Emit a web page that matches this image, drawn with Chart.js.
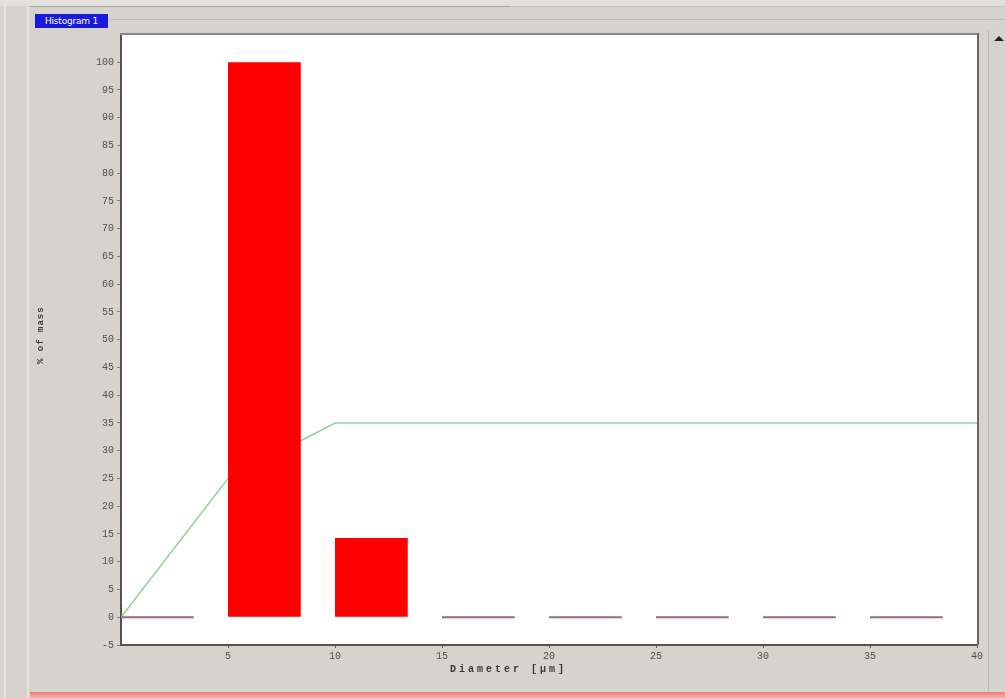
<!DOCTYPE html>
<html>
<head>
<meta charset="utf-8">
<script src="https://cdn.jsdelivr.net/npm/chart.js@4/dist/chart.umd.min.js"></script>
<style>
  html, body { margin: 0; padding: 0; background: #d6d3cc; overflow: hidden; }
  #wrap { position: relative; width: 1005px; height: 698px; }
  #plot { position: absolute; left: 0; top: 0; }
  .edge { position: absolute; }
  #tab {
    position: absolute; left: 35px; top: 14px; width: 73px; height: 14px;
    background: #1a1adc; color: #fff; font: 9px "DejaVu Sans", sans-serif;
    line-height: 14px; text-align: center; letter-spacing: -0.2px;
  }
</style>
</head>
<body>
<div id="wrap">
  <!-- window chrome -->
  <div class="edge" style="left:0;top:0;width:1005px;height:6px;background:#e2e0da"></div>
  <div class="edge" style="left:4px;top:0;width:2px;height:698px;background:#e6e4de"></div>
  <div class="edge" style="left:27px;top:6px;width:2px;height:692px;background:#e4e2dc"></div>
  <div class="edge" style="left:30px;top:6px;width:480px;height:1px;background:#a8a6a0"></div>
  <div class="edge" style="left:510px;top:6px;width:495px;height:1px;background:#c4c2bc"></div>
  <div class="edge" style="left:110px;top:19px;width:895px;height:1px;background:#bdbab4"></div>
  <div class="edge" style="left:988px;top:30px;width:1px;height:668px;background:#bcbab4"></div>
  <div class="edge" style="left:994px;top:36px;width:0;height:0;border-left:5px solid transparent;border-right:5px solid transparent;border-bottom:5px solid #222"></div>
  <div class="edge" style="left:30px;top:692px;width:975px;height:6px;background:linear-gradient(#f07a78,#f6b0ac)"></div>
  <div id="tab">Histogram 1</div>
  <canvas id="plot" width="1005" height="698"></canvas>
</div>
<script>
// Particle size distribution: mass fraction per diameter class
const binStarts = [0, 5, 10, 15, 20, 25, 30, 35];           // µm, lower edge of each class
const massPercent = [0, 100, 14.3, 0, 0, 0, 0, 0];          // % of mass per class
const curveX = [0, 5, 10, 15, 20, 25, 30, 35, 40];          // µm
const curveY = [0, 25, 35, 35, 35, 35, 35, 35, 35];         // green trace
const xTicks = [5, 10, 15, 20, 25, 30, 35, 40];
const yTicks = [-5, 0, 5, 10, 15, 20, 25, 30, 35, 40, 45, 50, 55, 60, 65, 70, 75, 80, 85, 90, 95, 100];

const binWidth = 5;
const barFraction = 0.68;   // bars are left-aligned inside their class

const barData = binStarts.map((s, i) => ({ x: s + binWidth * barFraction / 2, y: massPercent[i] }));
const curveData = curveX.map((x, i) => ({ x, y: curveY[i] }));

const tickFont = { family: '"Liberation Mono", "DejaVu Sans Mono", monospace', size: 10 };

const framePlugin = {
  id: 'frame',
  beforeDraw(chart) {
    const { ctx, chartArea: a } = chart;
    ctx.save();
    ctx.fillStyle = '#ffffff';
    ctx.fillRect(a.left, a.top, a.right - a.left, a.bottom - a.top);
    ctx.restore();
  },
  afterDraw(chart) {
    const { ctx, chartArea: a } = chart;
    ctx.save();
    // sunken plot frame
    ctx.fillStyle = '#8a8884';
    ctx.fillRect(a.left - 1, a.top - 2, a.right - a.left + 2, 2);
    ctx.fillStyle = '#6a6864';
    ctx.fillRect(a.right, a.top - 2, 2, a.bottom - a.top + 2);
    // axis titles
    ctx.fillStyle = '#3a3a3a';
    ctx.font = 'bold 10px "Liberation Mono", monospace';
    ctx.letterSpacing = '3px';
    ctx.textBaseline = 'middle';
    ctx.textAlign = 'left';
    ctx.fillText('Diameter [µm]', 450, 669);
    ctx.translate(41, 364);
    ctx.rotate(-Math.PI / 2);
    ctx.font = 'bold 9px "Liberation Mono", monospace';
    ctx.letterSpacing = '1px';
    ctx.fillText('% of mass', 0, 0);
    ctx.restore();
  }
};

new Chart(document.getElementById('plot'), {
  type: 'bar',
  data: {
    datasets: [
      {
        type: 'bar',
        data: barData,
        order: 1,
        backgroundColor: c => (c.raw && c.raw.y === 0 ? '#9c6a74' : '#ff0000'),
        borderWidth: 0,
        minBarLength: 2,
        barPercentage: barFraction,
        categoryPercentage: 1
      },
      {
        type: 'line',
        data: curveData,
        order: 2,
        borderColor: '#8fd493',
        borderWidth: 1.5,
        pointRadius: 0,
        tension: 0,
        fill: false
      }
    ]
  },
  plugins: [framePlugin],
  options: {
    responsive: false,
    animation: false,
    layout: { padding: { top: 35, right: 28, bottom: 0, left: 0 } },
    plugins: { legend: { display: false }, tooltip: { enabled: false } },
    scales: {
      x: {
        type: 'linear',
        min: 0,
        max: 40,
        offset: false,
        afterBuildTicks: s => { s.ticks = xTicks.map(v => ({ value: v })); },
        afterFit: s => { s.height = 53; },
        ticks: { color: '#505050', font: tickFont, padding: 2, maxRotation: 0 },
        grid: { drawOnChartArea: false, offset: false, tickLength: 3, color: '#606060' },
        border: { color: '#55534f', width: 2 }
      },
      y: {
        type: 'linear',
        min: -5,
        max: 104.9,
        afterBuildTicks: s => { s.ticks = yTicks.map(v => ({ value: v })); },
        afterFit: s => { s.width = 121; },
        ticks: { color: '#505050', font: tickFont, padding: 3 },
        grid: { drawOnChartArea: false, tickLength: 4, color: '#808080' },
        border: { color: '#55534f', width: 2 }
      }
    }
  }
});
</script>
</body>
</html>
